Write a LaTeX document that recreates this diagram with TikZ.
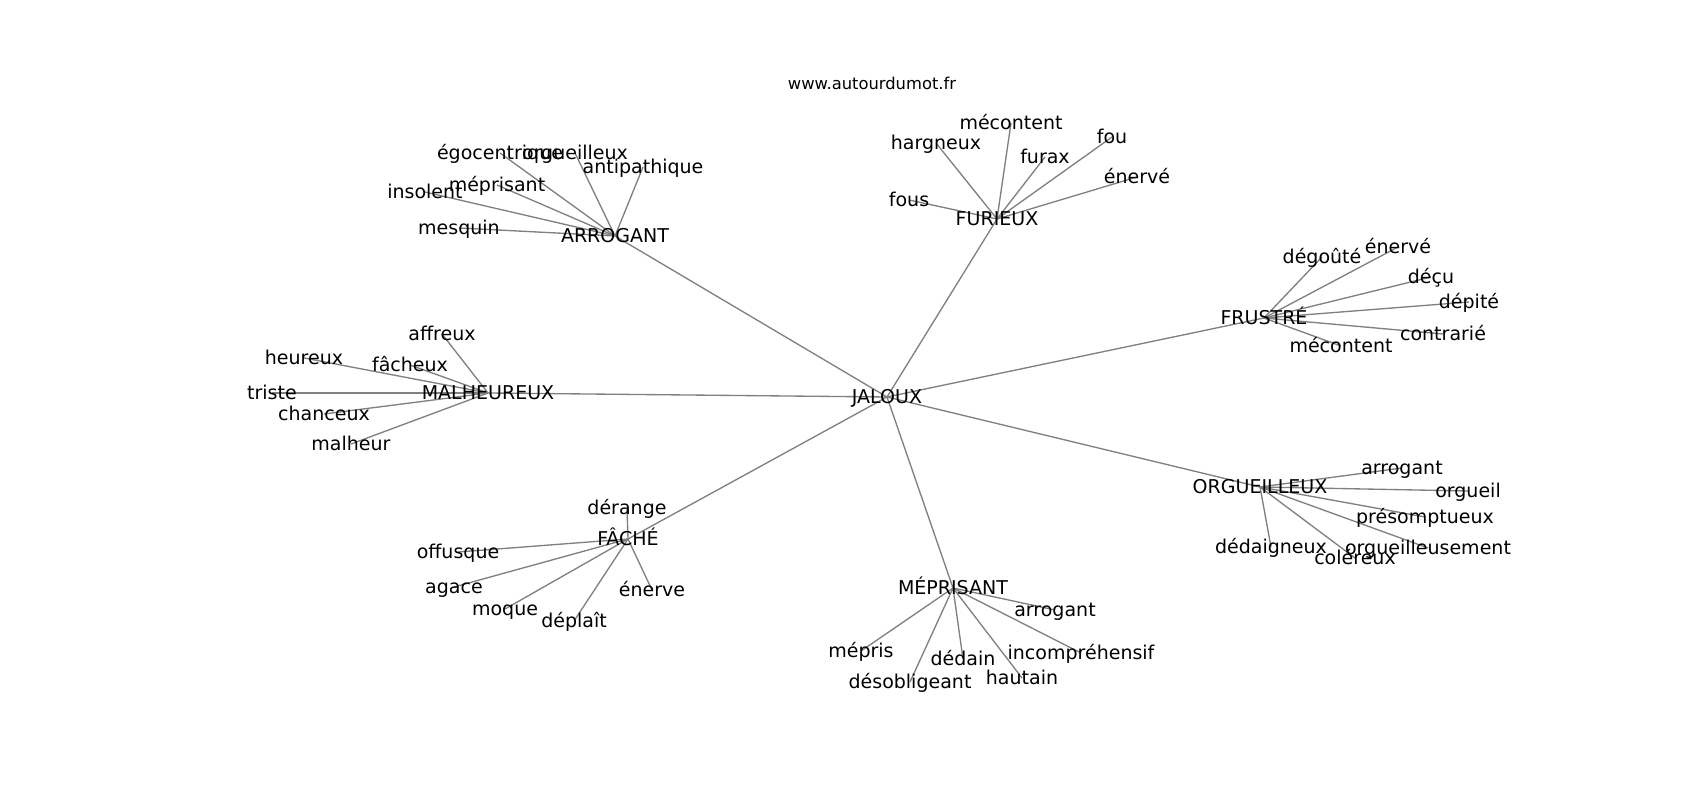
\documentclass[tikz,border=0pt]{standalone}
\usepackage{fontspec}
\setmainfont{DejaVu Sans}
\usetikzlibrary{backgrounds}

\tikzset{
  word/.style={inner sep=0pt, text height=3.95pt, text depth=0pt,
    font=\fontsize{5.41pt}{6pt}\selectfont},
  site/.style={inner sep=0pt, font=\fontsize{4.65pt}{5pt}\selectfont},
  link/.style={draw=gray, line width=0.38pt},
}

\begin{document}
\begin{tikzpicture}[y=-1cm]
    \useasboundingbox (0,0) rectangle (17,8);

    % Source
    \node[site] (site) at (8.72,0.83) {www.autourdumot.fr};

    % --- Centre ---
    \node[word] (jaloux) at (8.87,3.97) {JALOUX};

    % --- Groups ---
    \node[word] (arrogant) at (6.15,2.36) {ARROGANT};
    \node[word] (furieux) at (9.97,2.19) {FURIEUX};
    \node[word] (frustre) at (12.64,3.18) {FRUSTRÉ};
    \node[word] (orgueilleux) at (12.60,4.87) {ORGUEILLEUX};
    \node[word] (meprisant) at (9.53,5.88) {MÉPRISANT};
    \node[word] (fache) at (6.28,5.39) {FÂCHÉ};
    \node[word] (malheureux) at (4.88,3.93) {MALHEUREUX};

    % ARROGANT
    \node[word] (ar1) at (5.00,1.53) {égocentrique};
    \node[word] (ar2) at (5.75,1.53) {orgueilleux};
    \node[word] (ar3) at (6.43,1.67) {antipathique};
    \node[word] (ar4) at (4.97,1.85) {méprisant};
    \node[word] (ar5) at (4.25,1.92) {insolent};
    \node[word] (ar6) at (4.59,2.28) {mesquin};

    % FURIEUX
    \node[word] (fu1) at (10.11,1.23) {mécontent};
    \node[word] (fu2) at (9.36,1.43) {hargneux};
    \node[word] (fu3) at (10.45,1.57) {furax};
    \node[word] (fu4) at (11.12,1.37) {fou};
    \node[word] (fu5) at (11.37,1.77) {énervé};
    \node[word] (fu6) at (9.09,2.00) {fous};

    % FRUSTRÉ
    \node[word] (fr1) at (13.22,2.57) {dégoûté};
    \node[word] (fr2) at (13.98,2.47) {énervé};
    \node[word] (fr3) at (14.31,2.77) {déçu};
    \node[word] (fr4) at (14.69,3.02) {dépité};
    \node[word] (fr5) at (14.43,3.34) {contrarié};
    \node[word] (fr6) at (13.41,3.46) {mécontent};

    % ORGUEILLEUX
    \node[word] (or1) at (14.02,4.68) {arrogant};
    \node[word] (or2) at (14.68,4.91) {orgueil};
    \node[word] (or3) at (14.25,5.17) {présomptueux};
    \node[word] (or4) at (12.71,5.47) {dédaigneux};
    \node[word] (or5) at (14.28,5.48) {orgueilleusement};
    \node[word] (or6) at (13.55,5.58) {coléreux};

    % MÉPRISANT
    \node[word] (me1) at (10.55,6.10) {arrogant};
    \node[word] (me2) at (8.61,6.51) {mépris};
    \node[word] (me3) at (9.63,6.59) {dédain};
    \node[word] (me4) at (10.81,6.53) {incompréhensif};
    \node[word] (me5) at (9.10,6.82) {désobligeant};
    \node[word] (me6) at (10.22,6.78) {hautain};

    % FÂCHÉ
    \node[word] (fa1) at (6.27,5.08) {dérange};
    \node[word] (fa2) at (4.58,5.52) {offusque};
    \node[word] (fa3) at (4.54,5.87) {agace};
    \node[word] (fa4) at (5.05,6.09) {moque};
    \node[word] (fa5) at (5.74,6.21) {déplaît};
    \node[word] (fa6) at (6.52,5.90) {énerve};

    % MALHEUREUX
    \node[word] (ma1) at (4.42,3.34) {affreux};
    \node[word] (ma2) at (3.04,3.58) {heureux};
    \node[word] (ma3) at (4.10,3.65) {fâcheux};
    \node[word] (ma4) at (2.72,3.93) {triste};
    \node[word] (ma5) at (3.24,4.14) {chanceux};
    \node[word] (ma6) at (3.51,4.44) {malheur};

    % --- Links (under the words) ---
    \begin{scope}[on background layer]
        \foreach \g in {arrogant,furieux,frustre,orgueilleux,meprisant,fache,malheureux}
            \draw[link] (jaloux.center) -- (\g.center);
        \foreach \i in {1,...,6} {
            \draw[link] (arrogant.center) -- (ar\i.center);
            \draw[link] (furieux.center) -- (fu\i.center);
            \draw[link] (frustre.center) -- (fr\i.center);
            \draw[link] (orgueilleux.center) -- (or\i.center);
            \draw[link] (meprisant.center) -- (me\i.center);
            \draw[link] (fache.center) -- (fa\i.center);
            \draw[link] (malheureux.center) -- (ma\i.center);
        }
    \end{scope}
\end{tikzpicture}
\end{document}
